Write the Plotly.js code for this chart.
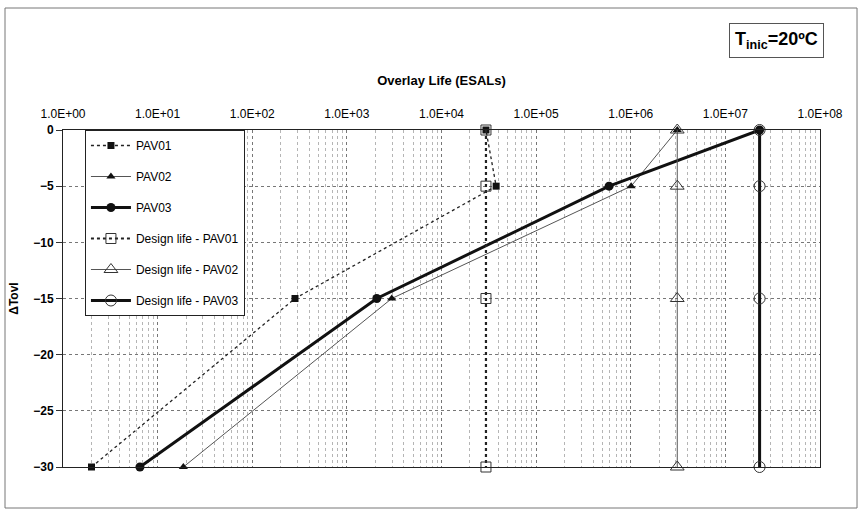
<!DOCTYPE html>
<html>
<head>
<meta charset="utf-8">
<script src="https://cdn.plot.ly/plotly-3.0.1.min.js"></script>
<style>html,body{margin:0;padding:0;background:#fff;}#chart{width:860px;height:511px;}</style>
</head>
<body>
<div id="chart"></div>
<script>
// ---- data ----
const pav01X = [2.0, 283, 37800, 29500];
const pav01Y = [-30, -15, -5, 0];
const pav02X = [18.7, 2980, 1.01e6, 3.1e6];
const pav02Y = [-30, -15, -5, 0];
const pav03X = [6.5, 2070, 5.9e5, 2.3e7];
const pav03Y = [-30, -15, -5, 0];
const design01X = [29500, 29500, 29500, 29500];
const design02X = [3.1e6, 3.1e6, 3.1e6, 3.1e6];
const design03X = [2.3e7, 2.3e7, 2.3e7, 2.3e7];
const designY = [0, -5, -15, -30];
const xTickVals = [1, 10, 100, 1000, 1e4, 1e5, 1e6, 1e7, 1e8];
const xTickText = ['1.0E+00','1.0E+01','1.0E+02','1.0E+03','1.0E+04','1.0E+05','1.0E+06','1.0E+07','1.0E+08'];
const yTickVals = [0, -5, -10, -15, -20, -25, -30];
const traceNames = ['PAV01','PAV02','PAV03','Design life - PAV01','Design life - PAV02','Design life - PAV03'];

const FONT = 'Liberation Sans, Arial, sans-serif';

const traces = [
  {x: pav01X, y: pav01Y, name: traceNames[0], legendgroup: 'g1', mode: 'lines+markers', cliponaxis: false,
   line: {color: '#222', width: 1.3, dash: 'dot'},
   marker: {symbol: 'square', size: 7, color: '#111'}},
  {x: pav02X, y: pav02Y, name: traceNames[1], legendgroup: 'g2', mode: 'lines+markers', cliponaxis: false,
   line: {color: '#555', width: 1},
   marker: {symbol: 'triangle-up', size: 8, color: '#111'}},
  {x: pav03X, y: pav03Y, name: traceNames[2], legendgroup: 'g3', mode: 'lines+markers', cliponaxis: false,
   line: {color: '#111', width: 3},
   marker: {symbol: 'circle', size: 9, color: '#111'}},
  {x: design01X, y: designY, name: traceNames[3], legendgroup: 'g4', mode: 'lines+markers', cliponaxis: false,
   line: {color: '#222', width: 2.2, dash: 'dot'},
   marker: {symbol: 'square-open', size: 10, color: '#333', line: {width: 1}}},
  {x: design02X, y: designY, name: traceNames[4], legendgroup: 'g5', mode: 'lines+markers', cliponaxis: false,
   line: {color: '#555', width: 1},
   marker: {symbol: 'triangle-up-open', size: 12, color: '#333', line: {width: 1}}},
  {x: design03X, y: designY, name: traceNames[5], legendgroup: 'g6', mode: 'lines+markers', cliponaxis: false,
   line: {color: '#111', width: 3},
   marker: {symbol: 'circle-open', size: 11, color: '#333', line: {width: 1}}}
];

const layout = {
  width: 860, height: 511,
  margin: {l: 63, r: 40, t: 130, b: 44},
  paper_bgcolor: '#fff', plot_bgcolor: '#fff',
  font: {family: FONT, size: 12, color: '#000'},
  showlegend: true,
  xaxis: {
    type: 'log', side: 'top', range: [0, 8],
    tickmode: 'array', tickvals: xTickVals, ticktext: xTickText,
    ticks: '', ticklabelstandoff: 6,
    tickfont: {family: FONT, size: 12, color: '#000'},
    showgrid: true, gridcolor: '#777', griddash: 'dot', gridwidth: 1,
    minor: {dtick: 'D1', showgrid: true, gridcolor: '#b5b5b5', griddash: 'dot', gridwidth: 1, ticks: ''},
    showline: true, linecolor: '#222', linewidth: 1, mirror: true,
    zeroline: false,
    title: {text: 'Overlay Life (ESALs)', font: {family: FONT, size: 13, color: '#000', weight: 'bold'}, standoff: 18}
  },
  yaxis: {
    range: [-30, 0], tickmode: 'array', tickvals: yTickVals,
    ticks: 'outside', ticklen: 6, tickcolor: '#333',
    tickfont: {family: FONT, size: 12, color: '#000', weight: 'bold'},
    showgrid: true, gridcolor: '#777', griddash: 'dot', gridwidth: 1,
    showline: true, linecolor: '#222', linewidth: 1, mirror: true,
    zeroline: false,
    title: {text: 'ΔTovl', font: {family: FONT, size: 12, color: '#000', weight: 'bold'}, standoff: 12}
  },
  legend: {
    x: 0.029, y: 1, xanchor: 'left', yanchor: 'top',
    bgcolor: '#fff', bordercolor: '#222', borderwidth: 1,
    font: {family: FONT, size: 12, color: '#000'},
    itemwidth: 40, tracegroupgap: 12,
    traceorder: 'grouped'
  },
  shapes: [
    {type: 'rect', xref: 'paper', yref: 'paper',
     x0: -0.0766, x1: 1.0489, y0: -0.1217, y1: 1.362,
     line: {color: '#777', width: 1}, layer: 'below'}
  ],
  annotations: [
    {text: '<b>T<sub>inic</sub>=20ºC</b>', xref: 'paper', yref: 'paper',
     x: 0.943, y: 1.267, xanchor: 'center', yanchor: 'middle', showarrow: false,
     font: {family: FONT, size: 18, color: '#000'},
     bordercolor: '#555', borderwidth: 1, borderpad: 5, bgcolor: '#fff'}
  ]
};

Plotly.newPlot('chart', traces, layout, {displayModeBar: false, staticPlot: true});
</script>
</body>
</html>
